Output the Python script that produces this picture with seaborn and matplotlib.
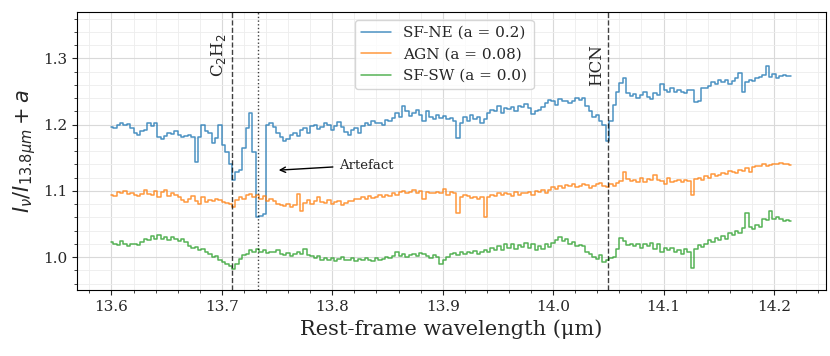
import numpy as np
import pandas as pd
import matplotlib.pyplot as plt
import seaborn as sns
from matplotlib.ticker import AutoMinorLocator

# wavelength grid (um), uniform sampling across the observed range
wave = np.linspace(13.6, 14.2155, 201)

sf_ne = [
    1.197, 1.195, 1.200, 1.203, 1.199, 1.201, 1.195, 1.187, 1.185, 1.190,
    1.192, 1.202, 1.198, 1.203, 1.182, 1.178, 1.183, 1.188, 1.186, 1.190,
    1.185, 1.181, 1.183, 1.184, 1.182, 1.143, 1.182, 1.200, 1.190, 1.188,
    1.172, 1.180, 1.200, 1.170, 1.158, 1.140, 1.116, 1.128, 1.132, 1.165,
    1.195, 1.218, 1.158, 1.060, 1.062, 1.065, 1.200, 1.203, 1.197, 1.188,
    1.182, 1.176, 1.178, 1.185, 1.187, 1.183, 1.192, 1.195, 1.188, 1.198,
    1.200, 1.194, 1.197, 1.203, 1.199, 1.192, 1.198, 1.204, 1.196, 1.189,
    1.185, 1.192, 1.195, 1.188, 1.198, 1.203, 1.200, 1.206, 1.202, 1.203,
    1.200, 1.207, 1.205, 1.210, 1.218, 1.212, 1.228, 1.220, 1.213, 1.218,
    1.222, 1.215, 1.205, 1.220, 1.212, 1.209, 1.215, 1.210, 1.213, 1.208,
    1.210, 1.205, 1.180, 1.203, 1.212, 1.206, 1.215, 1.209, 1.212, 1.203,
    1.208, 1.218, 1.222, 1.220, 1.228, 1.218, 1.225, 1.223, 1.226, 1.220,
    1.228, 1.226, 1.231, 1.225, 1.216, 1.220, 1.222, 1.226, 1.232, 1.237,
    1.235, 1.230, 1.238, 1.236, 1.235, 1.232, 1.236, 1.240, 1.237, 1.240,
    1.228, 1.220, 1.212, 1.215, 1.205, 1.200, 1.176, 1.205, 1.230, 1.250,
    1.263, 1.270, 1.248, 1.244, 1.246, 1.240, 1.245, 1.250, 1.242, 1.238,
    1.248, 1.245, 1.262, 1.252, 1.250, 1.255, 1.250, 1.252, 1.250, 1.248,
    1.253, 1.252, 1.234, 1.236, 1.256, 1.255, 1.258, 1.265, 1.262, 1.267,
    1.264, 1.268, 1.262, 1.266, 1.270, 1.278, 1.250, 1.265, 1.268, 1.266,
    1.270, 1.272, 1.275, 1.289, 1.272, 1.276, 1.270, 1.274, 1.275, 1.273, 1.274,
]

agn = [
    1.094, 1.092, 1.098, 1.097, 1.100, 1.095, 1.097, 1.093, 1.092, 1.095,
    1.102, 1.095, 1.093, 1.100, 1.090, 1.098, 1.102, 1.092, 1.096, 1.094,
    1.090, 1.086, 1.083, 1.087, 1.092, 1.085, 1.080, 1.090, 1.083, 1.086,
    1.084, 1.088, 1.086, 1.083, 1.082, 1.080, 1.075, 1.086, 1.090, 1.088,
    1.093, 1.095, 1.090, 1.093, 1.088, 1.092, 1.085, 1.087, 1.084, 1.080,
    1.078, 1.077, 1.080, 1.076, 1.078, 1.095, 1.070, 1.082, 1.086, 1.080,
    1.085, 1.090, 1.083, 1.082, 1.086, 1.080, 1.083, 1.084, 1.078, 1.082,
    1.085, 1.084, 1.088, 1.087, 1.090, 1.088, 1.092, 1.089, 1.091, 1.094,
    1.090, 1.093, 1.092, 1.096, 1.094, 1.098, 1.100, 1.096, 1.099, 1.102,
    1.097, 1.100, 1.088, 1.099, 1.097, 1.096, 1.099, 1.097, 1.103, 1.094,
    1.098, 1.096, 1.067, 1.090, 1.093, 1.092, 1.089, 1.091, 1.087, 1.090,
    1.060, 1.090, 1.094, 1.092, 1.096, 1.093, 1.097, 1.095, 1.092, 1.098,
    1.094, 1.097, 1.096, 1.099, 1.093, 1.100, 1.098, 1.101, 1.097, 1.102,
    1.106, 1.103, 1.108, 1.105, 1.109, 1.107, 1.110, 1.106, 1.108, 1.111,
    1.109, 1.105, 1.107, 1.110, 1.112, 1.108, 1.106, 1.110, 1.108, 1.112,
    1.115, 1.128, 1.118, 1.115, 1.116, 1.113, 1.120, 1.114, 1.118, 1.116,
    1.124, 1.117, 1.115, 1.110, 1.120, 1.114, 1.115, 1.117, 1.113, 1.116,
    1.115, 1.093, 1.118, 1.120, 1.117, 1.122, 1.120, 1.126, 1.122, 1.124,
    1.127, 1.125, 1.130, 1.128, 1.127, 1.132, 1.130, 1.134, 1.128, 1.136,
    1.138, 1.137, 1.140, 1.138, 1.139, 1.141, 1.140, 1.142, 1.141, 1.140, 1.139,
]

sf_sw = [
    1.022, 1.020, 1.018, 1.024, 1.020, 1.017, 1.019, 1.020, 1.018, 1.022,
    1.028, 1.025, 1.032, 1.028, 1.033, 1.027, 1.030, 1.026, 1.031, 1.027,
    1.024, 1.028, 1.022, 1.016, 1.013, 1.015, 1.010, 1.012, 1.007, 1.005,
    1.000, 1.002, 0.995, 0.993, 0.990, 0.986, 0.982, 0.990, 0.997, 1.003,
    1.005, 1.010, 1.008, 1.012, 1.008, 1.010, 1.006, 1.008, 1.007, 1.010,
    1.004, 1.003, 1.006, 1.002, 1.005, 1.008, 1.004, 1.012, 1.003, 1.001,
    0.998, 1.001, 0.996, 0.999, 0.995, 0.998, 0.994, 0.997, 1.000, 0.996,
    0.995, 0.998, 0.994, 0.997, 0.995, 0.999, 0.996, 0.994, 0.998, 0.995,
    0.997, 1.000, 0.998, 1.002, 1.008, 1.001, 1.004, 1.000, 1.003, 1.005,
    1.002, 1.006, 1.004, 1.001, 0.998, 1.003, 1.000, 0.990, 0.995, 1.000,
    1.004, 1.006, 1.003, 1.007, 1.005, 1.008, 1.006, 1.009, 1.005, 1.007,
    1.010, 1.008, 1.014, 1.010, 1.017, 1.011, 1.019, 1.014, 1.020, 1.012,
    1.018, 1.015, 1.021, 1.013, 1.019, 1.010, 1.016, 1.012, 1.019, 1.015,
    1.021, 1.025, 1.030, 1.024, 1.027, 1.019, 1.022, 1.017, 1.018, 1.016,
    1.008, 1.004, 1.000, 0.997, 1.003, 0.993, 0.996, 0.998, 1.000, 1.012,
    1.029, 1.024, 1.018, 1.020, 1.016, 1.019, 1.014, 1.020, 1.017, 1.021,
    1.012, 1.020, 1.008, 1.014, 1.011, 1.013, 1.007, 1.010, 1.005, 1.012,
    1.008, 0.983, 1.012, 1.018, 1.015, 1.020, 1.025, 1.022, 1.029, 1.026,
    1.032, 1.028, 1.036, 1.033, 1.040, 1.037, 1.044, 1.067, 1.045, 1.043,
    1.048, 1.046, 1.058, 1.056, 1.070, 1.058, 1.060, 1.057, 1.055, 1.056, 1.054,
]

labels = ["SF-NE (a = 0.2)", "AGN (a = 0.08)", "SF-SW (a = 0.0)"]
colors = ["#1f77b4", "#ff7f0e", "#2ca02c"]

c2h2 = 13.709
hcn = 14.05
artefact = 13.733

sns.set_style("ticks")
plt.rcParams["font.family"] = ["DejaVu Serif"]

fig, ax = plt.subplots(figsize=(8.3, 3.56), dpi=100)
fig.subplots_adjust(left=0.093, right=0.995, top=0.966, bottom=0.185)

for spec, lab, col in zip([sf_ne, agn, sf_sw], labels, colors):
    df = pd.DataFrame({"wave": wave, "flux": spec})
    sns.lineplot(data=df, x="wave", y="flux", ax=ax, color=col, lw=1.1,
                 alpha=0.8, drawstyle="steps-mid", label=lab)

ax.axvline(c2h2, color="k", ls="--", lw=1, alpha=0.75)
ax.axvline(hcn, color="k", ls="--", lw=1, alpha=0.75)
ax.axvline(artefact, color="k", ls=":", lw=1, alpha=0.75)

ax.text(c2h2 - 0.003, 1.305, "C$_2$H$_2$", rotation=90, ha="right", va="center", fontsize=12)
ax.text(hcn - 0.003, 1.29, "HCN", rotation=90, ha="right", va="center", fontsize=12)
ax.annotate("Artefact", xy=(13.749, 1.131), xytext=(13.806, 1.139),
            fontsize=9.5, va="center",
            arrowprops=dict(arrowstyle="->", color="k", lw=1))

ax.set_xlim(13.569, 14.247)
ax.set_ylim(0.95, 1.37)
ax.set_yticks([1.0, 1.1, 1.2, 1.3])
ax.xaxis.set_minor_locator(AutoMinorLocator())
ax.yaxis.set_minor_locator(AutoMinorLocator())
ax.grid(which="major", color="0.85", lw=0.8)
ax.grid(which="minor", color="0.93", lw=0.6)
ax.tick_params(labelsize=11)
for s in ax.spines.values():
    s.set_color("k")
    s.set_visible(True)

ax.set_xlabel("Rest-frame wavelength (μm)", fontsize=15)
ax.set_ylabel(r"$I_\nu/I_{13.8\mu m} + a$", fontsize=15)
ax.legend(loc="upper center", bbox_to_anchor=(0.49, 1.0), fontsize=11)

plt.savefig("out.png")
